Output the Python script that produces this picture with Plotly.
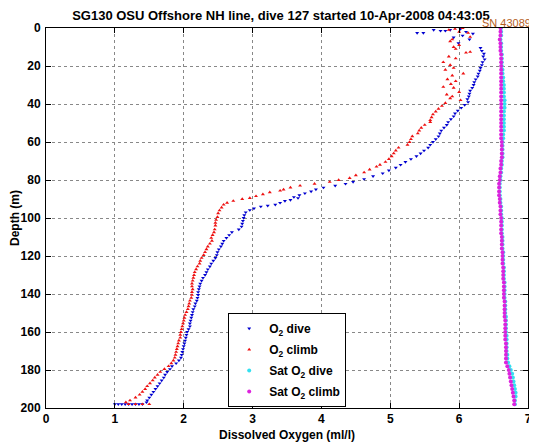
import plotly.graph_objects as go

# ---- O2 dive (blue) ----
dive_depth = [1.0, 2.6, 2.6, 1.5, 1.0, 0.5, 5.0, 8.0, 2.0, 3.0, 1.5, 4.0, 6.0,
              10.5, 12, 13.5, 15, 16.5, 18, 19.5, 21, 22.5, 24, 25.5, 27, 28.5, 30, 31.5, 33, 34.5, 36,
              37.5, 39, 40.5, 42, 43.5, 45, 46.5, 48, 49.5, 51, 52.5, 54, 55.5, 57, 58.5, 60, 61.5, 63,
              64.5, 66, 67.5, 69, 70.5, 72, 73.5, 75, 76.5, 78, 79.5, 81, 82, 83, 84, 85, 86, 87, 88,
              89, 89.5, 90.5, 91, 92, 93, 93.5, 94, 95, 95.8, 97, 98.5, 100, 101.5, 103, 104.5, 106,
              107.5, 109, 110.5, 112, 113.5, 115, 116.5, 118, 119.5, 121, 122.5, 124, 125.5, 127, 128.5,
              130, 131.5, 133, 134.5, 136, 137.5, 139, 140.5, 142, 143.5, 145, 146.5, 148, 149.5, 151,
              152.5, 154, 155.5, 157, 158.5, 160, 161.5, 163, 164.5, 166, 167.5, 169, 170.5, 172, 173.5,
              175, 176.5, 178, 179.5, 181, 182.5, 184, 185.5, 187, 188.5, 190, 191.5, 193, 194.5, 196,
              197, 198, 198, 198, 198, 198, 198, 198, 198, 198]
dive_o2 = [5.63, 5.39, 5.48, 5.73, 5.87, 6.02, 5.92, 5.99, 6.10, 6.20, 5.80, 6.05, 6.15,
           6.31, 6.33, 6.36, 6.35, 6.37, 6.34, 6.33, 6.31, 6.30, 6.28, 6.27, 6.24, 6.22, 6.21, 6.19, 6.16,
           6.15, 6.14, 6.12, 6.13, 6.08, 6.03, 5.98, 5.94, 5.92, 5.88, 5.84, 5.82, 5.78, 5.74, 5.72, 5.70,
           5.66, 5.62, 5.58, 5.55, 5.49, 5.44, 5.38, 5.30, 5.22, 5.15, 5.08, 4.98, 4.89, 4.75, 4.62, 4.46,
           4.35, 4.20, 4.03, 3.92, 3.85, 3.76, 3.68, 3.60, 3.66, 3.55, 3.47, 3.40, 3.33, 3.22, 3.12, 3.02,
           2.96, 2.90, 2.88, 2.87, 2.86, 2.85, 2.84, 2.80, 2.70, 2.66, 2.62, 2.58, 2.56, 2.54, 2.51, 2.49,
           2.48, 2.46, 2.43, 2.40, 2.38, 2.35, 2.33, 2.31, 2.28, 2.26, 2.24, 2.23, 2.22, 2.21, 2.21, 2.20,
           2.19, 2.17, 2.16, 2.14, 2.13, 2.12, 2.11, 2.10, 2.09, 2.09, 2.07, 2.05, 2.04, 2.03, 2.02, 2.01,
           2.00, 1.99, 1.98, 1.97, 1.96, 1.93, 1.89, 1.83, 1.80, 1.76, 1.73, 1.71, 1.68, 1.65, 1.62, 1.59,
           1.56, 1.53, 1.50, 1.47, 1.46, 1.40, 1.30, 1.20, 1.10, 1.00, 1.05, 1.15, 1.25, 1.35]

# ---- O2 climb (red) ----
climb_depth = [0.5, 0.0, 1.0, 2.6, 4.7, 2.0, 7.0, 10.0, 9.0, 11.0, 12.6, 13.0, 6.0,
               15, 16, 18, 19.5, 21, 22, 24, 25, 27, 28, 29.5, 31, 31.5, 33.7, 35, 36, 37, 38, 39.5, 41,
               42.5, 44, 45.5, 47, 48.5, 49.5, 51, 52.5, 54, 55.5, 57, 58.5, 60, 61.5, 63, 64.5, 66, 67.5,
               69, 70.5, 72, 73, 74.5, 76, 77.5, 79, 80, 81, 82, 83, 84, 85, 85.6, 86.5, 87.5, 88.5, 89.5,
               90, 91, 92, 93, 94.5, 96, 97.5, 99.5, 101, 102.5, 104, 106, 107.5, 109, 110.5, 112, 113.5,
               115, 116.5, 118, 119.5, 121, 122.5, 124, 125.5, 127, 128.5, 130, 131.5, 133, 134.5, 136,
               137.5, 139, 140.5, 142, 143.5, 145, 146.5, 148, 149.5, 151, 152.5, 154, 155.5, 157, 158.5,
               160, 161.5, 163, 164.5, 166, 167.5, 169, 170.5, 172, 173.5, 175, 176.5, 178, 179.5, 181,
               182.5, 184, 185.5, 187, 188.5, 190, 191.5, 193, 194.5, 196, 197, 198, 198, 198, 198]
climb_o2 = [5.94, 6.05, 5.85, 6.13, 6.16, 6.00, 5.87, 5.92, 6.00, 5.95, 6.16, 6.10, 5.90,
            5.85, 5.95, 5.77, 5.87, 5.92, 5.80, 6.06, 5.90, 5.83, 5.95, 5.88, 5.77, 5.92, 6.00, 5.82, 5.90,
            5.87, 6.02, 5.80, 5.75, 5.70, 5.66, 5.62, 5.60, 5.58, 5.58, 5.50, 5.45, 5.42, 5.40, 5.32, 5.30,
            5.28, 5.25, 5.12, 5.08, 5.05, 5.02, 4.98, 4.93, 4.85, 4.80, 4.70, 4.62, 4.50, 4.41, 4.25, 4.12,
            3.90, 3.69, 3.55, 3.45, 3.40, 3.25, 3.15, 3.05, 2.96, 2.85, 2.72, 2.63, 2.58, 2.55, 2.52, 2.50,
            2.49, 2.47, 2.46, 2.46, 2.45, 2.44, 2.42, 2.40, 2.41, 2.38, 2.35, 2.33, 2.31, 2.29, 2.26, 2.24,
            2.23, 2.20, 2.18, 2.16, 2.15, 2.14, 2.13, 2.12, 2.12, 2.13, 2.12, 2.12, 2.11, 2.09, 2.08, 2.07,
            2.06, 2.04, 2.02, 2.01, 2.00, 1.99, 1.98, 1.97, 1.96, 1.95, 1.95, 1.93, 1.92, 1.91, 1.90, 1.89,
            1.88, 1.87, 1.85, 1.82, 1.78, 1.72, 1.66, 1.62, 1.58, 1.55, 1.51, 1.47, 1.44, 1.40, 1.36, 1.30,
            1.22, 1.16, 1.20, 1.30, 1.40, 1.50]

# ---- Saturation O2 ----
sat_depth = [0, 2, 4, 6, 8, 10, 12, 14, 16, 18, 20, 22, 24, 26, 28, 30, 32, 34, 36, 38, 40, 42, 44, 46,
             48, 50, 52, 54, 56, 58, 60, 62, 64, 66, 68, 70, 72, 74, 76, 78, 80, 82, 84, 86, 88, 90, 92,
             94, 96, 98, 100, 102, 104, 106, 108, 110, 112, 114, 116, 118, 120, 122, 124, 126, 128, 130,
             132, 134, 136, 138, 140, 142, 144, 146, 148, 150, 152, 154, 156, 158, 160, 162, 164, 166,
             168, 170, 172, 174, 176, 178, 180, 182, 184, 186, 188, 190, 192, 194, 196, 198]
sat_dive_o2 = [6.61, 6.61, 6.61, 6.60, 6.61, 6.61, 6.61, 6.62, 6.62, 6.62, 6.62, 6.63, 6.63, 6.64,
               6.64, 6.65, 6.65, 6.65, 6.65, 6.66, 6.66, 6.66, 6.65, 6.65, 6.65, 6.65, 6.65, 6.65, 6.64,
               6.64, 6.63, 6.63, 6.63, 6.63, 6.63, 6.62, 6.62, 6.61, 6.61, 6.60, 6.60, 6.59, 6.59, 6.59,
               6.59, 6.60, 6.60, 6.61, 6.61, 6.61, 6.62, 6.62, 6.62, 6.62, 6.62, 6.63, 6.63, 6.63, 6.63,
               6.64, 6.64, 6.64, 6.64, 6.65, 6.65, 6.65, 6.65, 6.66, 6.66, 6.66, 6.66, 6.66, 6.67, 6.67,
               6.67, 6.67, 6.68, 6.68, 6.68, 6.68, 6.68, 6.69, 6.69, 6.69, 6.69, 6.69, 6.70, 6.70, 6.71,
               6.73, 6.75, 6.77, 6.78, 6.79, 6.80, 6.81, 6.82, 6.82, 6.81, 6.81]
sat_climb_o2 = [6.60, 6.60, 6.60, 6.59, 6.60, 6.60, 6.60, 6.61, 6.61, 6.61, 6.61, 6.61, 6.61, 6.61,
                6.61, 6.61, 6.61, 6.61, 6.61, 6.61, 6.61, 6.61, 6.61, 6.61, 6.61, 6.61, 6.61, 6.61, 6.61,
                6.61, 6.62, 6.62, 6.62, 6.62, 6.62, 6.61, 6.61, 6.60, 6.60, 6.59, 6.59, 6.58, 6.58, 6.58,
                6.58, 6.59, 6.59, 6.60, 6.60, 6.60, 6.61, 6.61, 6.61, 6.61, 6.61, 6.62, 6.62, 6.62, 6.62,
                6.63, 6.63, 6.63, 6.63, 6.64, 6.64, 6.64, 6.64, 6.65, 6.65, 6.65, 6.65, 6.65, 6.66, 6.66,
                6.66, 6.66, 6.66, 6.67, 6.67, 6.67, 6.67, 6.67, 6.67, 6.68, 6.68, 6.68, 6.68, 6.68, 6.68,
                6.70, 6.72, 6.73, 6.74, 6.75, 6.76, 6.77, 6.78, 6.79, 6.80, 6.80]

x_ticks = [0, 1, 2, 3, 4, 5, 6, 7]
y_ticks = [0, 20, 40, 60, 80, 100, 120, 140, 160, 180, 200]

FONT = "Liberation Sans, Arial, sans-serif"

fig = go.Figure()
fig.add_trace(go.Scatter(x=dive_o2, y=dive_depth, mode="markers", name="O<sub>2</sub> dive",
                         legendgroup="a",
                         marker=dict(symbol="triangle-down", size=3.5, color="#0000d0")))
fig.add_trace(go.Scatter(x=climb_o2, y=climb_depth, mode="markers", name="O<sub>2</sub> climb",
                         legendgroup="b",
                         marker=dict(symbol="triangle-up", size=3.5, color="#ee1111")))
fig.add_trace(go.Scatter(x=sat_dive_o2, y=sat_depth, mode="markers", name="Sat O<sub>2</sub> dive",
                         legendgroup="c",
                         marker=dict(symbol="circle", size=4, color="#33e0f0")))
fig.add_trace(go.Scatter(x=sat_climb_o2, y=sat_depth, mode="markers", name="Sat O<sub>2</sub> climb",
                         legendgroup="d",
                         marker=dict(symbol="circle", size=4, color="#dd22dd")))

axis_common = dict(showline=True, linecolor="black", linewidth=1, mirror="allticks",
                   ticks="inside", ticklen=5, tickcolor="black",
                   showgrid=True, gridcolor="#888888", griddash="dot", gridwidth=1,
                   zeroline=False, automargin=False, ticklabeloverflow="allow",
                   tickfont=dict(family=FONT, size=12, color="black", weight="bold"))

fig.update_xaxes(range=[0, 7], tickvals=x_ticks,
                 title=dict(text="Dissolved Oxygen (ml/l)", standoff=5,
                            font=dict(family=FONT, size=12, color="black", weight="bold")),
                 **axis_common)
fig.update_yaxes(range=[200, 0], tickvals=y_ticks, ticklabelstandoff=2,
                 title=dict(text="Depth (m)", standoff=10,
                            font=dict(family=FONT, size=12, color="black", weight="bold")),
                 **axis_common)

fig.add_annotation(text="SN 43089", xref="paper", yref="paper", x=1.0, y=1.0,
                   xanchor="right", yanchor="bottom", showarrow=False, yshift=-3, xshift=5,
                   font=dict(family=FONT, size=11, color="#b5601e"))

# The page body adds an 8 px offset, so the figure is 8 px smaller and shifted.
fig.update_layout(
    width=529, height=434,
    margin=dict(l=38, r=9, t=20, b=34),
    paper_bgcolor="white", plot_bgcolor="white",
    title=dict(text="<b>SG130 OSU Offshore NH line, dive 127 started 10-Apr-2008 04:43:05</b>",
               x=0.516, xanchor="center", y=0.982, yanchor="middle", pad=dict(t=0, b=0),
               font=dict(family=FONT, size=13, color="black")),
    legend=dict(x=0.378, y=0.25, xanchor="left", yanchor="top",
                bgcolor="white", bordercolor="black", borderwidth=1,
                font=dict(family=FONT, size=12, color="black", weight="bold"),
                itemsizing="trace", tracegroupgap=2),
    showlegend=True,
)

fig.write_html("out.html")
